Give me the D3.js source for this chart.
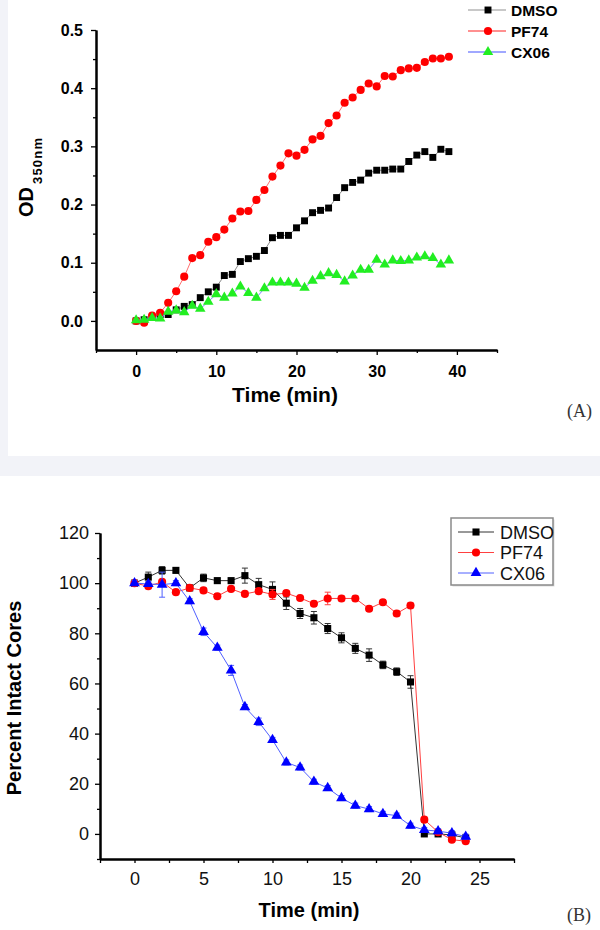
<!DOCTYPE html>
<html><head><meta charset="utf-8">
<script src="https://cdn.jsdelivr.net/npm/d3@7"></script>
<style>body{margin:0;background:#fff}svg{display:block}</style>
</head><body>
<svg id="c" width="600" height="930"></svg>
<script>
// ---------- Panel A data ----------
const timeA = [0,1,2,3,4,5,6,7,8,9,10,11,12,13,14,15,16,17,18,19,20,21,22,23,24,25,26,27,28,29,30,31,32,33,34,35,36,37,38,39];
const dmsoA = [0,0.002,0.006,0.011,0.011,0.019,0.025,0.028,0.040,0.050,0.058,0.078,0.080,0.102,0.107,0.111,0.121,0.143,0.147,0.147,0.160,0.172,0.186,0.190,0.194,0.212,0.229,0.238,0.242,0.254,0.259,0.259,0.261,0.261,0.274,0.285,0.291,0.281,0.295,0.291];
const pf74A = [0,-0.003,0.009,0.014,0.031,0.051,0.076,0.108,0.113,0.136,0.144,0.157,0.176,0.188,0.189,0.208,0.225,0.248,0.267,0.288,0.284,0.294,0.312,0.318,0.340,0.353,0.375,0.384,0.397,0.408,0.403,0.421,0.420,0.431,0.434,0.435,0.445,0.451,0.451,0.454];
const cx06A = [0.001,0.002,0.005,0.004,0.016,0.018,0.015,0.026,0.021,0.033,0.046,0.040,0.047,0.059,0.048,0.040,0.056,0.066,0.066,0.066,0.064,0.057,0.069,0.077,0.082,0.079,0.068,0.078,0.088,0.088,0.105,0.097,0.104,0.103,0.104,0.109,0.111,0.108,0.097,0.104];
const yTicksA = [0,0.1,0.2,0.3,0.4,0.5];
const yMinorA = [0.05,0.15,0.25,0.35,0.45];
const xTicksA = [0,10,20,30,40];
const xMinorA = [-5,5,15,25,35,45];

// ---------- Panel B data ----------
const timeB = [0,1,2,3,4,5,6,7,8,9,10,11,12,13,14,15,16,17,18,19,20,21,22,23,24];
const dmsoB = [100,102.4,105.1,105.1,98.1,102.1,101.0,101.0,103.0,99.4,97.5,92.0,87.9,86.2,81.9,78.2,74.0,71.3,67.4,64.7,60.6,0,0,-0.4,-1.6];
const dmsoErrB = [1,2,1.5,1,1,1.5,1,1,3,2.5,3,2.5,2,2.5,2,2,2,2.5,1.5,1.5,2.5,0.5,0.5,0.5,0.5];
const pf74B = [100,98.8,100.5,96.4,98.1,97.1,94.8,97.7,95.7,96.8,95.5,96.0,94.1,91.8,93.9,93.9,93.9,89.8,92.4,87.9,91.1,5.7,0.7,-2.3,-2.9];
const pf74ErrB = [1,1,1,1,1,1,1,1,1,1,2,1,1,1,2.5,1,1,1,1,1,1,1,0.5,0.5,0.5];
const cx06B = [100,99.7,99.4,100,92.8,80.6,74.3,65.2,50.6,44.7,37.5,28.5,26.5,20.8,18.3,14.3,11.3,9.9,8.0,7.3,3.3,1.6,1.1,0.3,-1.1];
const cx06ErrB = [1,1,5,1,1,1.5,1,2,1,1.5,1,1,1,1,1,1,1,1,1,1,1,1,1,1,1];
const yTicksB = [0,20,40,60,80,100,120];
const yMinorB = [-10,10,30,50,70,90,110];
const xTicksB = [0,5,10,15,20,25];
const xMinorB = [-2.5,2.5,7.5,12.5,17.5,22.5,27.5];

const seriesNames = ["DMSO","PF74","CX06"];

const svg = d3.select("#c");
const SANS = "'Liberation Sans', Arial, sans-serif";
const SERIF = "'Liberation Serif', 'Times New Roman', serif";

// background frame
svg.append("rect").attr("x",0).attr("y",0).attr("width",600).attr("height",930).attr("fill","#fff");
svg.append("rect").attr("x",0).attr("y",0).attr("width",8).attr("height",456).attr("fill","#f2f3f8");
svg.append("rect").attr("x",0).attr("y",456).attr("width",600).attr("height",20).attr("fill","#f2f3f8");

function styleAxis(g, size, weight, sw){
  g.attr("font-family", SANS).attr("font-size", size).attr("font-weight", weight);
  g.selectAll("path.domain").attr("stroke","#000").attr("stroke-width",sw);
  g.selectAll(".tick line").attr("stroke","#000").attr("stroke-width",1.3);
  g.selectAll(".tick text").attr("fill","#000");
}

// ================= Panel A =================
const xA = d3.scaleLinear().domain([-5,45]).range([96,497]);
const yA = d3.scaleLinear().domain([-0.05,0.5]).range([350,30]);
const gA = svg.append("g");

gA.append("g").attr("transform","translate(96,0)")
  .call(d3.axisLeft(yA).tickValues(yMinorA).tickSize(3).tickSizeOuter(0).tickFormat(""))
  .call(g=>styleAxis(g,16,"bold",2));
gA.append("g").attr("transform","translate(96,0)")
  .call(d3.axisLeft(yA).tickValues(yTicksA).tickSize(5).tickSizeOuter(0).tickPadding(8).tickFormat(d3.format(".1f")))
  .call(g=>styleAxis(g,16,"bold",2));
gA.append("g").attr("transform","translate(0,350)")
  .call(d3.axisBottom(xA).tickValues(xMinorA).tickSize(3).tickSizeOuter(0).tickFormat(""))
  .call(g=>styleAxis(g,16,"bold",2));
gA.append("g").attr("transform","translate(0,350)")
  .call(d3.axisBottom(xA).tickValues(xTicksA).tickSize(5).tickSizeOuter(0).tickPadding(11))
  .call(g=>styleAxis(g,16,"bold",2));

const seriesA = [
  {name:"DMSO", vals:dmsoA, line:"#8a8a8a", fill:"#000", sym:d3.symbolSquare, size:48, leg:"#c8c8c8"},
  {name:"PF74", vals:pf74A, line:"#ff7070", fill:"#ff0000", sym:d3.symbolCircle, size:52, leg:"#ff9090"},
  {name:"CX06", vals:cx06A, line:"#8080ff", fill:"#22ee22", sym:d3.symbolTriangle, size:48, leg:"#a0a8ff"}
];
const lineA = d3.line().x((d,i)=>xA(timeA[i])).y(d=>yA(d));
seriesA.forEach(s=>{
  gA.append("path").datum(s.vals).attr("d",lineA).attr("fill","none").attr("stroke",s.line).attr("stroke-width",1);
  gA.selectAll(null).data(s.vals).enter().append("path")
    .attr("d", d3.symbol().type(s.sym).size(s.size))
    .attr("transform",(d,i)=>`translate(${xA(timeA[i])},${yA(d)})`)
    .attr("fill", s.fill);
});

// legend A
const legYA = [10,31,52];
seriesA.forEach((s,i)=>{
  const y = legYA[i];
  gA.append("line").attr("x1",468).attr("x2",506).attr("y1",y).attr("y2",y).attr("stroke",s.leg).attr("stroke-width",2);
  gA.append("path").attr("d", d3.symbol().type(s.sym).size(s.size)).attr("transform",`translate(488,${y})`).attr("fill",s.fill);
  gA.append("text").attr("x",511).attr("y",y+5.5).attr("font-family",SANS).attr("font-size",15.5).attr("font-weight","bold").text(s.name);
});

// titles A
const odT = gA.append("text").attr("transform","translate(33,217) rotate(-90)")
  .attr("font-family",SANS).attr("font-weight","bold").attr("font-size",20).attr("text-anchor","start");
odT.append("tspan").text("OD");
odT.append("tspan").attr("font-size",13).attr("dy",9).attr("dx",3).attr("letter-spacing",1.2).text("350nm");
gA.append("text").attr("x",285).attr("y",402).attr("text-anchor","middle")
  .attr("font-family",SANS).attr("font-weight","bold").attr("font-size",21).text("Time (min)");
gA.append("text").attr("x",567).attr("y",417).attr("font-family",SERIF).attr("font-size",18).attr("fill","#333").text("(A)");

// ================= Panel B =================
const xB = d3.scaleLinear().domain([-2.5,27.5]).range([100,514]);
const yB = d3.scaleLinear().domain([-10,120]).range([859,533]);
const gB = svg.append("g");

gB.append("g").attr("transform","translate(100,0)")
  .call(d3.axisLeft(yB).tickValues(yMinorB).tickSize(3).tickSizeOuter(0).tickFormat(""))
  .call(g=>styleAxis(g,18,"normal",2));
gB.append("g").attr("transform","translate(100,0)")
  .call(d3.axisLeft(yB).tickValues(yTicksB).tickSize(5).tickSizeOuter(0).tickPadding(6))
  .call(g=>styleAxis(g,18,"normal",2));
gB.append("g").attr("transform","translate(0,859)")
  .call(d3.axisBottom(xB).tickValues(xMinorB).tickSize(4).tickSizeOuter(0).tickFormat(""))
  .call(g=>styleAxis(g,18,"normal",2));
gB.append("g").attr("transform","translate(0,859)")
  .call(d3.axisBottom(xB).tickValues(xTicksB).tickSize(4).tickSizeOuter(0).tickPadding(9))
  .call(g=>styleAxis(g,18,"normal",2));
gB.selectAll(".tick text").attr("fill","#111");

const seriesB = [
  {name:"DMSO", vals:dmsoB, err:dmsoErrB, line:"#333", fill:"#000", sym:d3.symbolSquare, size:50},
  {name:"PF74", vals:pf74B, err:pf74ErrB, line:"#ff4040", fill:"#ff0000", sym:d3.symbolCircle, size:52},
  {name:"CX06", vals:cx06B, err:cx06ErrB, line:"#5060ff", fill:"#0000ff", sym:d3.symbolTriangle, size:50}
];
const lineB = d3.line().x((d,i)=>xB(timeB[i])).y(d=>yB(d));
seriesB.forEach(s=>{
  gB.append("path").datum(s.vals).attr("d",lineB).attr("fill","none").attr("stroke",s.line).attr("stroke-width",1);
  const eb = gB.append("g").attr("stroke",s.line).attr("stroke-width",1);
  s.vals.forEach((v,i)=>{
    const x = xB(timeB[i]), y1 = yB(v - s.err[i]), y2 = yB(v + s.err[i]);
    eb.append("line").attr("x1",x).attr("x2",x).attr("y1",y1).attr("y2",y2);
    eb.append("line").attr("x1",x-3).attr("x2",x+3).attr("y1",y1).attr("y2",y1);
    eb.append("line").attr("x1",x-3).attr("x2",x+3).attr("y1",y2).attr("y2",y2);
  });
  gB.selectAll(null).data(s.vals).enter().append("path")
    .attr("d", d3.symbol().type(s.sym).size(s.size))
    .attr("transform",(d,i)=>`translate(${xB(timeB[i])},${yB(d)})`)
    .attr("fill", s.fill);
});

// legend B
gB.append("rect").attr("x",452.5).attr("y",519.5).attr("width",102).attr("height",67).attr("fill","#ddd");
gB.append("rect").attr("x",451).attr("y",518).attr("width",102).attr("height",67).attr("fill","#fff").attr("stroke","#8a8a8a").attr("stroke-width",1.5);
const legYB = [532,552.5,573];
seriesB.forEach((s,i)=>{
  const y = legYB[i];
  gB.append("line").attr("x1",458).attr("x2",494).attr("y1",y).attr("y2",y).attr("stroke",s.line).attr("stroke-width",1);
  gB.append("path").attr("d", d3.symbol().type(s.sym).size(s.size)).attr("transform",`translate(476,${y})`).attr("fill",s.fill);
  gB.append("text").attr("x",500).attr("y",y+6.5).attr("font-family",SANS).attr("font-size",18).attr("fill","#111").text(s.name);
});

gB.append("text").attr("transform","translate(21,698) rotate(-90)").attr("text-anchor","middle")
  .attr("font-family",SANS).attr("font-weight","bold").attr("font-size",20).text("Percent Intact Cores");
gB.append("text").attr("x",309).attr("y",917).attr("text-anchor","middle")
  .attr("font-family",SANS).attr("font-weight","bold").attr("font-size",20).text("Time (min)");
gB.append("text").attr("x",567).attr("y",921).attr("font-family",SERIF).attr("font-size",18).attr("fill","#333").text("(B)");
</script>
</body></html>
